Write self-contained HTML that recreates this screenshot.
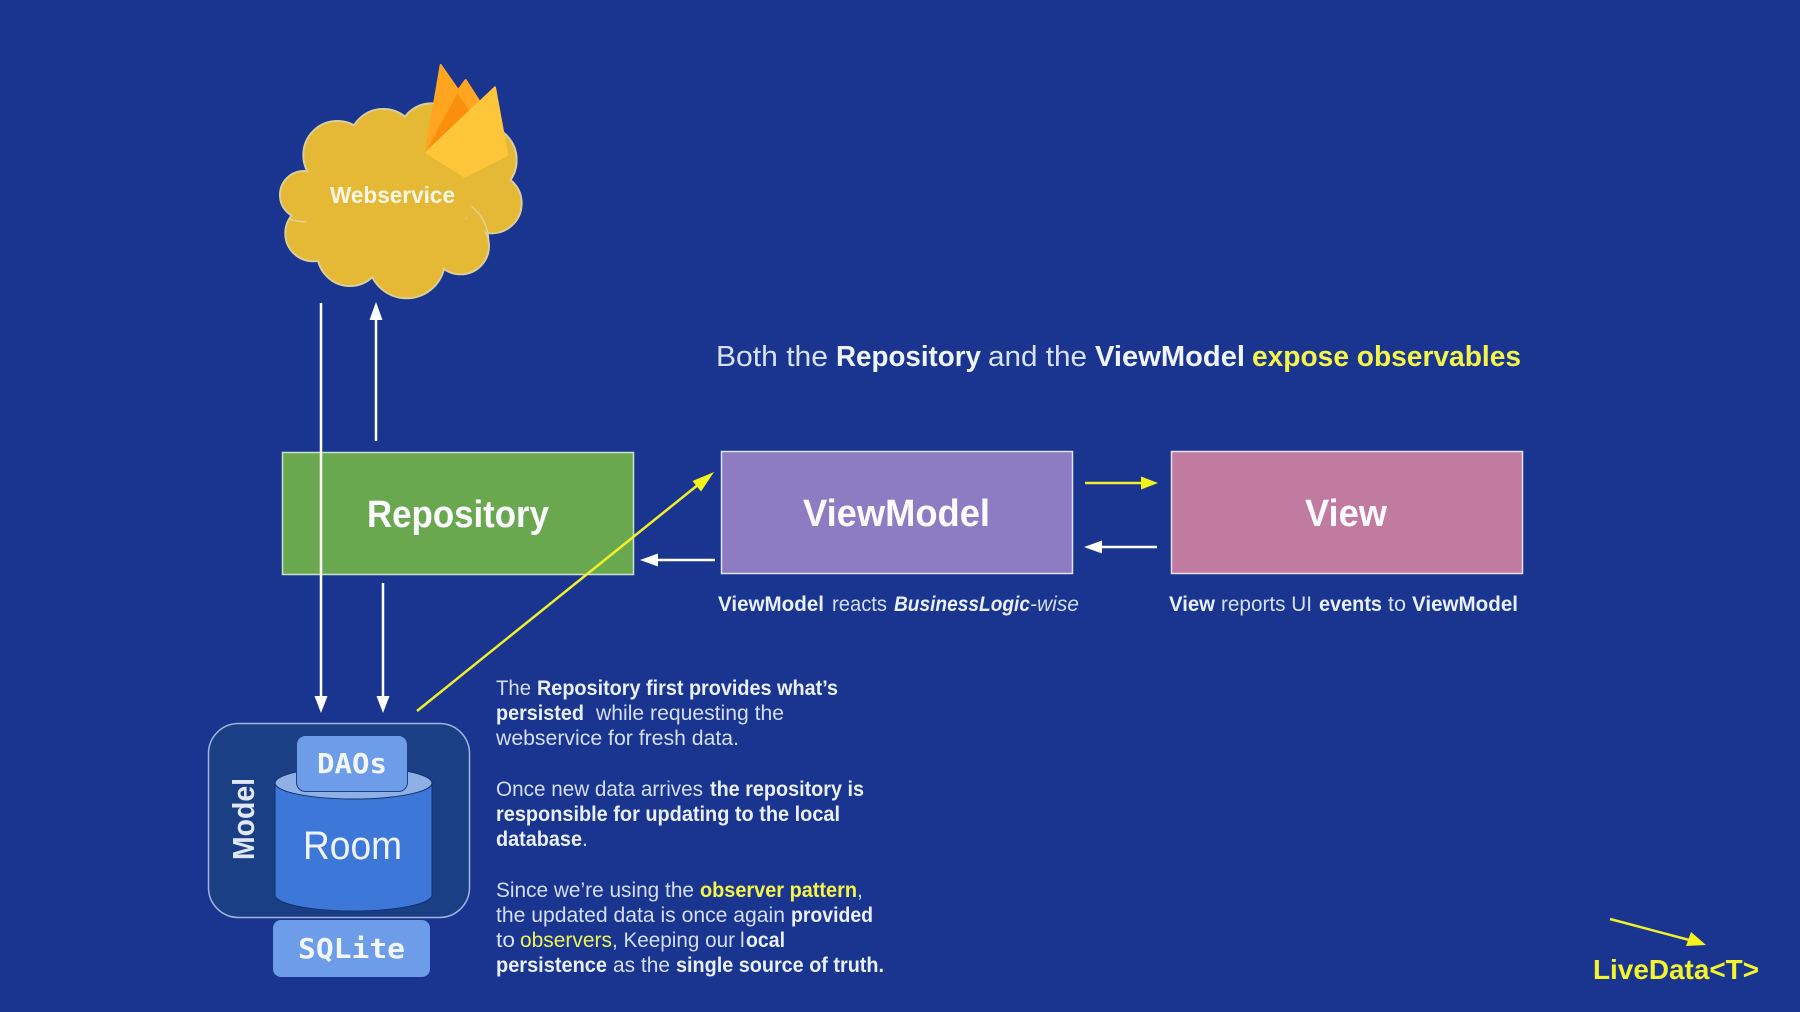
<!DOCTYPE html>
<html><head><meta charset="utf-8">
<style>
html,body{margin:0;padding:0;background:#19358f;width:1800px;height:1012px;overflow:hidden}
svg{display:block}
text{font-family:"Liberation Sans",sans-serif;white-space:pre}
.r{font-size:21px;fill:#d5def2}
.b{font-size:21px;font-weight:bold;fill:#eaf0fa}
.y{font-size:21px;font-weight:bold;fill:#f4f44a}
.h{font-size:29px;fill:#d9e1f4}
.hb{font-size:29px;font-weight:bold;fill:#f0f4fc}
.t{font-size:38px;font-weight:bold;fill:#fbfbff}
.m{font-family:"DejaVu Sans Mono","Liberation Mono",monospace;font-weight:bold;fill:#f2f6ff}
</style></head><body>
<svg width="1800" height="1012" viewBox="0 0 1800 1012" xmlns="http://www.w3.org/2000/svg">
<rect width="1800" height="1012" fill="#19358f"/>
<g transform="translate(250,40) scale(0.3333)">
<g fill="#e5b935" stroke="#d9cf9e" stroke-width="6">
<circle cx="162" cy="465" r="72"/><circle cx="262" cy="345" r="102"/><circle cx="400" cy="310" r="103"/><circle cx="545" cy="290" r="100"/><circle cx="695" cy="360" r="105"/><circle cx="725" cy="490" r="90"/><circle cx="632" cy="618" r="85"/><circle cx="470" cy="660" r="115"/><circle cx="300" cy="640" r="98"/><circle cx="190" cy="580" r="84"/>
</g>
<g fill="#e5b935">
<circle cx="162" cy="465" r="69"/><circle cx="262" cy="345" r="99"/><circle cx="400" cy="310" r="100"/><circle cx="545" cy="290" r="97"/><circle cx="695" cy="360" r="102"/><circle cx="725" cy="490" r="87"/><circle cx="632" cy="618" r="82"/><circle cx="470" cy="660" r="112"/><circle cx="300" cy="640" r="95"/><circle cx="190" cy="580" r="81"/><circle cx="430" cy="480" r="225"/>
</g>
<path d="M665 500Q710 535 716 595M120 537Q145 547 170 545" fill="none" stroke="#e4d596" stroke-width="4"/>
<path d="M647 120 L692 190 L600 260 L610 170Z" fill="#ffa51f" stroke="#ffa51f" stroke-width="6" stroke-linejoin="round"/>
<path d="M572 75 L628 155 L528 335Z" fill="#ffa51f" stroke="#ffa51f" stroke-width="6" stroke-linejoin="round"/>
<path d="M622 160 L658 212 L528 335Z" fill="#f98f0b"/>
<path d="M735 142 L772 345 L645 410 L528 338Z" fill="#fdc63a" stroke="#fdc63a" stroke-width="6" stroke-linejoin="round"/>
</g>
<text x="330" y="203" font-size="23" font-weight="bold" fill="#fbf7e6" textLength="125" lengthAdjust="spacingAndGlyphs">Webservice</text>

<rect x="282.500" y="452.500" width="351" height="122" fill="#6aa84f" stroke="#c9dfd0" stroke-width="1.500"/>
<rect x="721.500" y="451.500" width="351" height="122" fill="#8e7cc3" stroke="#dfe4fb" stroke-width="1.500"/>
<rect x="1171.500" y="451.500" width="351" height="122" fill="#c27ba0" stroke="#e8e0ee" stroke-width="1.500"/>
<text class="t" x="367" y="527" textLength="182" lengthAdjust="spacingAndGlyphs">Repository</text>
<text class="t" x="803" y="526" textLength="187" lengthAdjust="spacingAndGlyphs">ViewModel</text>
<text class="t" x="1305" y="526" textLength="82" lengthAdjust="spacingAndGlyphs">View</text>

<g fill="none" stroke="#fff" stroke-width="2.500">
<path d="M321 303V700M383 583V700M376 441V314M715 560H650M1157 547H1095"/>
</g>
<g fill="#fff">
<path d="M321 713l-6.500-17h13zM383 713l-6.500-17h13zM376 302l-6.500 18h13zM640 560l18-6.500v13zM1084 547l18-6.500v13z"/>
</g>
<g fill="none" stroke="#f0f02c" stroke-width="2.500">
<path d="M417 711L704 480M1085 483H1147M1610 919L1693 941"/>
</g>
<g fill="#f4f41c">
<path d="M714 472L692.500 481L701 491.500ZM1158 483l-17-6.500v13zM1706 945L1691 932L1686 946Z"/>
</g>

<text class="h" x="716" y="366" textLength="112" lengthAdjust="spacingAndGlyphs">Both the</text>
<text class="hb" x="836" y="366" textLength="145" lengthAdjust="spacingAndGlyphs">Repository</text>
<text class="h" x="988" y="366" textLength="99" lengthAdjust="spacingAndGlyphs">and the</text>
<text class="hb" x="1095" y="366" textLength="150" lengthAdjust="spacingAndGlyphs">ViewModel</text>
<text class="hb" style="fill:#f4f44a" x="1252" y="366" textLength="269" lengthAdjust="spacingAndGlyphs">expose observables</text>

<text class="b" x="718" y="611" textLength="106" lengthAdjust="spacingAndGlyphs">ViewModel</text>
<text class="r" x="832" y="611" textLength="55" lengthAdjust="spacingAndGlyphs">reacts</text>
<text class="b" x="894" y="611" font-style="italic" textLength="136" lengthAdjust="spacingAndGlyphs">BusinessLogic</text>
<text class="r" x="1030" y="611" font-style="italic" textLength="49" lengthAdjust="spacingAndGlyphs">-wise</text>

<text class="b" x="1169" y="611" textLength="46" lengthAdjust="spacingAndGlyphs">View</text>
<text class="r" x="1221" y="611" textLength="91" lengthAdjust="spacingAndGlyphs">reports UI</text>
<text class="b" x="1319" y="611" textLength="63" lengthAdjust="spacingAndGlyphs">events</text>
<text class="r" x="1388" y="611" textLength="18" lengthAdjust="spacingAndGlyphs">to</text>
<text class="b" x="1412" y="611" textLength="106" lengthAdjust="spacingAndGlyphs">ViewModel</text>

<text class="r" x="496" y="695" textLength="35" lengthAdjust="spacingAndGlyphs">The</text>
<text class="b" x="537" y="695" textLength="301" lengthAdjust="spacingAndGlyphs">Repository first provides what’s</text>
<text class="b" x="496" y="720" textLength="88" lengthAdjust="spacingAndGlyphs">persisted</text>
<text class="r" x="596" y="720" textLength="188" lengthAdjust="spacingAndGlyphs">while requesting the</text>
<text class="r" x="496" y="745" textLength="243" lengthAdjust="spacingAndGlyphs">webservice for fresh data.</text>
<text class="r" x="496" y="796" textLength="207" lengthAdjust="spacingAndGlyphs">Once new data arrives</text>
<text class="b" x="710" y="796" textLength="154" lengthAdjust="spacingAndGlyphs">the repository is</text>
<text class="b" x="496" y="821" textLength="344" lengthAdjust="spacingAndGlyphs">responsible for updating to the local</text>
<text class="b" x="496" y="846" textLength="86" lengthAdjust="spacingAndGlyphs">database</text>
<text class="r" x="582" y="846">.</text>
<text class="r" x="496" y="897" textLength="198" lengthAdjust="spacingAndGlyphs">Since we’re using the</text>
<text class="y" x="700" y="897" textLength="157" lengthAdjust="spacingAndGlyphs">observer pattern</text>
<text class="r" x="857" y="897">,</text>
<text class="r" x="496" y="922" textLength="289" lengthAdjust="spacingAndGlyphs">the updated data is once again</text>
<text class="b" x="791" y="922" textLength="82" lengthAdjust="spacingAndGlyphs">provided</text>
<text class="r" x="496" y="947" textLength="19" lengthAdjust="spacingAndGlyphs">to</text>
<text class="r" style="fill:#eef25a" x="520" y="947" textLength="92" lengthAdjust="spacingAndGlyphs">observers</text>
<text class="r" x="612" y="947" textLength="123" lengthAdjust="spacingAndGlyphs">, Keeping our</text>
<text class="r" x="740" y="947">l</text>
<text class="b" x="746" y="947" textLength="39" lengthAdjust="spacingAndGlyphs">ocal</text>
<text class="b" x="496" y="972" textLength="111" lengthAdjust="spacingAndGlyphs">persistence</text>
<text class="r" x="613" y="972" textLength="57" lengthAdjust="spacingAndGlyphs">as the</text>
<text class="b" x="676" y="972" textLength="208" lengthAdjust="spacingAndGlyphs">single source of truth.</text>

<text x="1593" y="979" font-size="28" font-weight="bold" fill="#f4f42c" textLength="166" lengthAdjust="spacingAndGlyphs">LiveData&lt;T&gt;</text>

<rect x="208.500" y="723.500" width="261" height="194" rx="30" fill="#1b3f85" stroke="#9db4e0" stroke-width="1.500"/>
<path d="M275 783V895A78.500 16 0 0 0 432 895V783Z" fill="#3d78d8" stroke="#12306f" stroke-width="1"/>
<ellipse cx="353.500" cy="783" rx="78.500" ry="16" fill="#8fb0e4" stroke="#12306f" stroke-width="1"/>
<rect x="296.500" y="735.500" width="111" height="56" rx="9" fill="#6d9ce8" stroke="#1d3f85" stroke-width="1"/>
<text class="m" x="317" y="773" font-size="28" textLength="70" lengthAdjust="spacingAndGlyphs">DAOs</text>
<text x="303" y="859" font-size="40" fill="#eef3fd" textLength="99" lengthAdjust="spacingAndGlyphs">Room</text>
<rect x="273" y="920" width="157" height="57" rx="8" fill="#6d9ce8"/>
<text class="m" x="298" y="958" font-size="28" textLength="107" lengthAdjust="spacingAndGlyphs">SQLite</text>
<text transform="translate(254,860) rotate(-90)" font-size="31" font-weight="bold" fill="#e0e7f6" textLength="82" lengthAdjust="spacingAndGlyphs">Model</text>
</svg>
</body></html>
